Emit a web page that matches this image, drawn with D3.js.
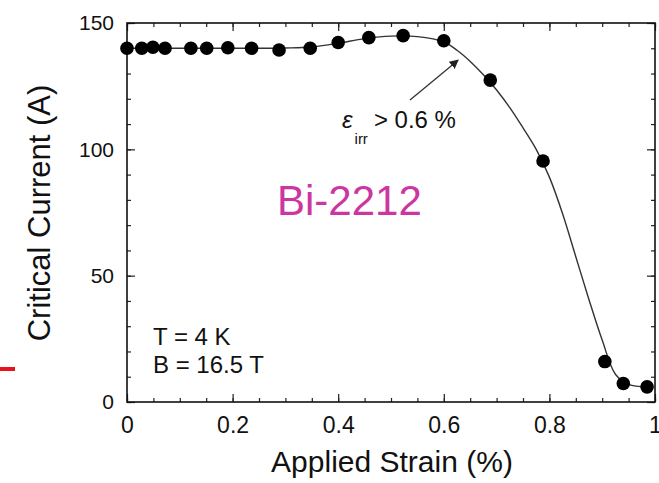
<!DOCTYPE html>
<html lang="en">
<head>
<meta charset="UTF-8">
<title>Bi-2212 critical current vs strain</title>
<script src="https://cdn.jsdelivr.net/npm/d3@7/dist/d3.min.js"></script>
<style>
body{margin:0;background:#fff;}
svg text{font-family:"Liberation Sans",Arial,sans-serif;fill:#111;}
</style>
</head>
<body>
<script>
// measured points
var strain  = [0, 0.028, 0.049, 0.072, 0.121, 0.151, 0.191, 0.236, 0.288, 0.347, 0.4, 0.458, 0.523, 0.6, 0.688, 0.788, 0.905, 0.94, 0.985];
var current = [140, 140, 140.4, 140, 140, 140, 140.2, 140, 139.3, 140, 142.3, 144.2, 145, 143, 127.4, 95.4, 16, 7.3, 6];
// fitted curve
var fitX = [0, 0.1, 0.2, 0.3, 0.35, 0.4, 0.45, 0.5, 0.55, 0.6, 0.625, 0.65, 0.675, 0.7, 0.725, 0.75, 0.775, 0.8, 0.825, 0.85, 0.875, 0.9, 0.925, 0.95, 0.985];
var fitY = [140, 140, 140, 140.1, 140.5, 142, 143.8, 144.8, 144.6, 142.5, 139.2, 134.8, 129.5, 123.5, 116.5, 108.5, 100, 89, 74.5, 57.5, 40.5, 24.5, 11, 7, 6];
var xTicks = [0, 0.2, 0.4, 0.6, 0.8, 1];
var xTickLabels = ["0", "0.2", "0.4", "0.6", "0.8", "1"];
var yTicks = [0, 50, 100, 150];

var width = 659, height = 483;
var margin = {left:127, right:4, top:23, bottom:81};
var svg = d3.select("body").append("svg").attr("width", width).attr("height", height);

var x = d3.scaleLinear().domain([0, 1]).range([margin.left, width - margin.right]);
var y = d3.scaleLinear().domain([0, 150]).range([height - margin.bottom, margin.top]);

var minorX = d3.range(0, 1.0001, 0.05);
var minorY = d3.range(0, 150.001, 10);

function styleAxis(g){
  g.select(".domain").remove();
  g.selectAll("line").attr("stroke", "#222").attr("stroke-width", 1.2);
}

// minor ticks, all four sides
svg.append("g").attr("transform", "translate(0," + y(0) + ")")
  .call(d3.axisBottom(x).tickValues(minorX).tickSize(-4).tickFormat("")).call(styleAxis);
svg.append("g").attr("transform", "translate(0," + y(150) + ")")
  .call(d3.axisTop(x).tickValues(minorX).tickSize(-4).tickFormat("")).call(styleAxis);
svg.append("g").attr("transform", "translate(" + x(0) + ",0)")
  .call(d3.axisLeft(y).tickValues(minorY).tickSize(-4).tickFormat("")).call(styleAxis);
svg.append("g").attr("transform", "translate(" + x(1) + ",0)")
  .call(d3.axisRight(y).tickValues(minorY).tickSize(-4).tickFormat("")).call(styleAxis);

// major ticks + labels
var xAxis = svg.append("g").attr("transform", "translate(0," + y(0) + ")")
  .call(d3.axisBottom(x).tickValues(xTicks).tickSize(-8).tickPadding(15)
    .tickFormat(function(d, i){ return xTickLabels[i]; }));
xAxis.call(styleAxis);
xAxis.selectAll("text").attr("font-size", 23).attr("fill", "#111");

svg.append("g").attr("transform", "translate(0," + y(150) + ")")
  .call(d3.axisTop(x).tickValues(xTicks).tickSize(-8).tickFormat("")).call(styleAxis);

var yAxis = svg.append("g").attr("transform", "translate(" + x(0) + ",0)")
  .call(d3.axisLeft(y).tickValues(yTicks).tickSize(-8).tickPadding(13));
yAxis.call(styleAxis);
yAxis.selectAll("text").attr("font-size", 21).attr("fill", "#111");

svg.append("g").attr("transform", "translate(" + x(1) + ",0)")
  .call(d3.axisRight(y).tickValues(yTicks).tickSize(-8).tickFormat("")).call(styleAxis);

// frame
svg.append("rect")
  .attr("x", x(0)).attr("y", y(150))
  .attr("width", x(1) - x(0)).attr("height", y(0) - y(150))
  .attr("fill", "none").attr("stroke", "#111").attr("stroke-width", 1.6);

// fitted curve
var fit = fitX.map(function(d, i){ return [d, fitY[i]]; });
var line = d3.line().x(function(d){ return x(d[0]); }).y(function(d){ return y(d[1]); })
  .curve(d3.curveCatmullRom.alpha(0.5));
svg.append("path").datum(fit).attr("d", line)
  .attr("fill", "none").attr("stroke", "#333").attr("stroke-width", 1.4);

// data dots
svg.selectAll("circle.pt").data(strain).enter().append("circle")
  .attr("class", "pt")
  .attr("cx", function(d){ return x(d); })
  .attr("cy", function(d, i){ return y(current[i]); })
  .attr("r", 6.8).attr("fill", "#000");

// arrow for the irreversible strain
var defs = svg.append("defs");
defs.append("marker").attr("id", "head").attr("viewBox", "0 0 10 10")
  .attr("refX", 9).attr("refY", 5).attr("markerWidth", 7).attr("markerHeight", 7)
  .attr("orient", "auto")
  .append("path").attr("d", "M0,0L10,5L0,10z").attr("fill", "#222");
svg.append("line")
  .attr("x1", x(0.536)).attr("y1", y(119.5))
  .attr("x2", x(0.627)).attr("y2", y(135.3))
  .attr("stroke", "#333").attr("stroke-width", 1.3)
  .attr("marker-end", "url(#head)");

var ann = svg.append("text").attr("x", 342).attr("y", 128).attr("font-size", 24);
ann.append("tspan").attr("font-style", "italic").text("ε");
ann.append("tspan").attr("font-size", 15).attr("dy", 16).attr("dx", 2).text("irr");
ann.append("tspan").attr("dy", -16).attr("dx", 6).text("> 0.6 %");

svg.append("text").attr("x", 277).attr("y", 215).attr("font-size", 42)
  .style("fill", "#cc36a0").text("Bi-2212");

svg.append("text").attr("x", 153).attr("y", 345).attr("font-size", 24).text("T = 4 K");
svg.append("text").attr("x", 153).attr("y", 373).attr("font-size", 24).text("B = 16.5 T");

// axis titles
svg.append("text").attr("x", 392).attr("y", 472).attr("font-size", 30)
  .attr("text-anchor", "middle").text("Applied Strain (%)");
svg.append("text").attr("transform", "translate(50,213) rotate(-90)")
  .attr("font-size", 31).attr("text-anchor", "middle").text("Critical Current (A)");

// small red dash at the left edge
svg.append("line").attr("x1", 0).attr("x2", 15).attr("y1", 369).attr("y2", 369)
  .attr("stroke", "#e8141c").attr("stroke-width", 4);
</script>
</body>
</html>
